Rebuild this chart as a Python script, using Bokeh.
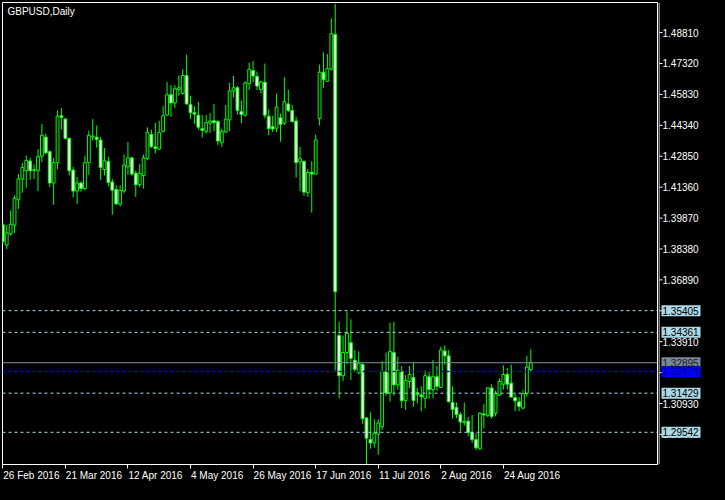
import pandas as pd
from bokeh.plotting import figure
from bokeh.layouts import row
from bokeh.models import (Range1d, FixedTicker, CustomJSTickFormatter, Span, Label,
                          ColumnDataSource, GlobalInlineStyleSheet)
from bokeh.core.properties import value
from bokeh.embed import file_html
from bokeh.resources import INLINE

# ---------------- data ----------------
chart_title = "GBPUSD,Daily"
first_date = "2016-02-26"

opens = [1.3955, 1.3857, 1.3911, 1.3953, 1.4075, 1.4175, 1.4215, 1.4262, 1.4220, 1.4215,
         1.4285, 1.4377, 1.4307, 1.4156, 1.4254, 1.4480, 1.4464, 1.4371, 1.4218, 1.4117,
         1.4156, 1.4129, 1.4254, 1.4378, 1.4377, 1.4363, 1.4221, 1.4260, 1.4161, 1.4125,
         1.4055, 1.4117, 1.4234, 1.4277, 1.4203, 1.4148, 1.4192, 1.4273, 1.4390, 1.4330,
         1.4319, 1.4405, 1.4483, 1.4581, 1.4542, 1.4607, 1.4588, 1.4674, 1.4534, 1.4495,
         1.4483, 1.4418, 1.4405, 1.4444, 1.4456, 1.4452, 1.4350, 1.4402, 1.4460, 1.4600,
         1.4615, 1.4501, 1.4483, 1.4635, 1.4698, 1.4670, 1.4607, 1.4642, 1.4478, 1.4428,
         1.4420, 1.4470, 1.4444, 1.4537, 1.4506, 1.4455, 1.4258, 1.4260, 1.4109, 1.4207,
         1.4199, 1.4467, 1.4690, 1.4646, 1.4705, 1.4872, 1.3421, 1.3227, 1.3339, 1.3386,
         1.3302, 1.3241, 1.3281, 1.3023, 1.2919, 1.2903, 1.2945, 1.2981, 1.3246, 1.3144,
         1.3339, 1.3183, 1.3248, 1.3108, 1.3199, 1.3218, 1.3136, 1.3134, 1.3118, 1.3222,
         1.3160, 1.3222, 1.3171, 1.3346, 1.3323, 1.3098, 1.3074, 1.3040, 1.3001, 1.3008,
         1.2954, 1.2919, 1.2875, 1.3043, 1.3036, 1.3168, 1.3046, 1.3134, 1.3186, 1.3233,
         1.3191, 1.3121, 1.3101, 1.3071, 1.3141, 1.3256]
highs = [1.3971, 1.3953, 1.4023, 1.4097, 1.4199, 1.4252, 1.4288, 1.4277, 1.4246, 1.4319,
         1.4441, 1.4394, 1.4312, 1.4277, 1.4506, 1.4517, 1.4470, 1.4374, 1.4234, 1.4184,
         1.4164, 1.4288, 1.4408, 1.4464, 1.4433, 1.4377, 1.4324, 1.4283, 1.4175, 1.4145,
         1.4145, 1.4293, 1.4354, 1.4283, 1.4215, 1.4246, 1.4293, 1.4424, 1.4413, 1.4447,
         1.4456, 1.4526, 1.4643, 1.4628, 1.4628, 1.4674, 1.4704, 1.4774, 1.4576, 1.4526,
         1.4548, 1.4483, 1.4483, 1.4494, 1.4537, 1.4460, 1.4418, 1.4532, 1.4638, 1.4672,
         1.4623, 1.4553, 1.4646, 1.4736, 1.4744, 1.4693, 1.4649, 1.4732, 1.4511, 1.4480,
         1.4587, 1.4490, 1.4666, 1.4607, 1.4532, 1.4475, 1.4330, 1.4265, 1.4223, 1.4260,
         1.4390, 1.4727, 1.4786, 1.4778, 1.4950, 1.5020, 1.3487, 1.3421, 1.3537, 1.3499,
         1.3350, 1.3344, 1.3288, 1.3028, 1.3051, 1.3017, 1.3017, 1.3297, 1.3339, 1.3482,
         1.3487, 1.3319, 1.3274, 1.3230, 1.3274, 1.3292, 1.3168, 1.3176, 1.3253, 1.3249,
         1.3303, 1.3274, 1.3367, 1.3373, 1.3350, 1.3176, 1.3098, 1.3051, 1.3098, 1.3028,
         1.3038, 1.2950, 1.3051, 1.3090, 1.3172, 1.3186, 1.3155, 1.3214, 1.3277, 1.3264,
         1.3280, 1.3140, 1.3124, 1.3157, 1.3323, 1.3354]
lows = [1.3859, 1.3837, 1.3902, 1.3915, 1.4031, 1.4109, 1.4133, 1.4171, 1.4175, 1.4117,
        1.4257, 1.4293, 1.4136, 1.4051, 1.4223, 1.4413, 1.4366, 1.4192, 1.4086, 1.4055,
        1.4114, 1.4121, 1.4195, 1.4361, 1.4327, 1.4171, 1.4192, 1.4140, 1.4003, 1.4051,
        1.4042, 1.4106, 1.4195, 1.4190, 1.4089, 1.4136, 1.4129, 1.4268, 1.4324, 1.4299,
        1.4316, 1.4400, 1.4480, 1.4475, 1.4518, 1.4576, 1.4581, 1.4534, 1.4464, 1.4441,
        1.4413, 1.4374, 1.4393, 1.4397, 1.4405, 1.4339, 1.4330, 1.4397, 1.4405, 1.4568,
        1.4486, 1.4444, 1.4475, 1.4604, 1.4642, 1.4604, 1.4588, 1.4467, 1.4386, 1.4402,
        1.4402, 1.4355, 1.4436, 1.4498, 1.4447, 1.4182, 1.4117, 1.4094, 1.4089, 1.4013,
        1.4198, 1.4433, 1.4615, 1.4643, 1.4698, 1.3252, 1.3118, 1.3202, 1.3284, 1.3207,
        1.3246, 1.3234, 1.2996, 1.2799, 1.2875, 1.2880, 1.2846, 1.2966, 1.3129, 1.3102,
        1.3132, 1.3160, 1.3071, 1.3062, 1.3168, 1.3078, 1.3093, 1.3056, 1.3069, 1.3116,
        1.3118, 1.3155, 1.3168, 1.3280, 1.3098, 1.3020, 1.3023, 1.2958, 1.2986, 1.2934,
        1.2903, 1.2868, 1.2870, 1.2973, 1.3028, 1.3020, 1.3032, 1.3129, 1.3160, 1.3160,
        1.3121, 1.3056, 1.3056, 1.3064, 1.3126, 1.3246]
closes = [1.3874, 1.3915, 1.3957, 1.4083, 1.4176, 1.4231, 1.4265, 1.4215, 1.4217, 1.4283,
          1.4386, 1.4301, 1.4156, 1.4254, 1.4478, 1.4472, 1.4371, 1.4215, 1.4117, 1.4156,
          1.4129, 1.4254, 1.4386, 1.4382, 1.4366, 1.4231, 1.4263, 1.4159, 1.4121, 1.4055,
          1.4120, 1.4242, 1.4277, 1.4199, 1.4148, 1.4203, 1.4277, 1.4400, 1.4332, 1.4322,
          1.4400, 1.4480, 1.4581, 1.4542, 1.4610, 1.4615, 1.4674, 1.4537, 1.4495, 1.4488,
          1.4425, 1.4410, 1.4447, 1.4455, 1.4447, 1.4358, 1.4405, 1.4464, 1.4600, 1.4615,
          1.4506, 1.4486, 1.4638, 1.4704, 1.4672, 1.4623, 1.4643, 1.4483, 1.4418, 1.4416,
          1.4522, 1.4439, 1.4548, 1.4506, 1.4452, 1.4254, 1.4273, 1.4112, 1.4207, 1.4199,
          1.4363, 1.4690, 1.4654, 1.4708, 1.4876, 1.3632, 1.3227, 1.3339, 1.3432, 1.3311,
          1.3258, 1.3288, 1.3020, 1.2926, 1.2903, 1.2950, 1.2999, 1.3246, 1.3144, 1.3344,
          1.3183, 1.3253, 1.3106, 1.3204, 1.3233, 1.3108, 1.3144, 1.3126, 1.3227, 1.3160,
          1.3222, 1.3176, 1.3351, 1.3323, 1.3102, 1.3064, 1.3040, 1.3004, 1.3008, 1.2954,
          1.2919, 1.2880, 1.3046, 1.3038, 1.3168, 1.3031, 1.3140, 1.3199, 1.3233, 1.3186,
          1.3124, 1.3106, 1.3079, 1.3140, 1.3269, 1.32895]

price_ticks = [1.29440, 1.30930, 1.32420, 1.33910, 1.35400, 1.36890, 1.38380,
               1.39870, 1.41360, 1.42850, 1.44340, 1.45830, 1.47320, 1.48810]
date_tick_step = 16
level_lines = [1.35405, 1.34361, 1.31429, 1.29542]
pivot_line = 1.32474
bid_line = 1.32895

# ---------------- layout ----------------
W, H = 709, 484
SW = 51                    # width of the price-scale strip
MW = W - SW                # width of the chart figure
BL, BT, BR, BB = 2, 2, 1, 20
FW = MW - BL - BR
FONT = "Liberation Sans"
FS = "10px"
LIME = "#00FF00"
X0, X1 = -0.075, 167.4
Y0, Y1 = 1.2799, 1.5026

n = len(opens)
dates = pd.bdate_range(first_date, periods=n)
src = ColumnDataSource(dict(
    x=list(range(n)),
    h=highs, l=lows,
    top=[max(a, b) for a, b in zip(opens, closes)],
    bot=[min(a, b) for a, b in zip(opens, closes)],
    fill=["#000000" if c >= o else "#FFFFFF" for o, c in zip(opens, closes)],
))

p = figure(width=MW, height=H, output_backend="svg", toolbar_location=None,
           x_range=Range1d(X0, X1), y_range=Range1d(Y0, Y1),
           y_axis_location=None,
           background_fill_color="black", border_fill_color="black",
           outline_line_color="white", outline_line_width=1,
           min_border_left=BL, min_border_top=BT, min_border_right=BR, min_border_bottom=BB)
p.stylesheets = [GlobalInlineStyleSheet(css="html, body { background-color: #000000; }")]
p.xgrid.visible = False
p.ygrid.visible = False

# candles
p.segment(x0="x", y0="h", x1="x", y1="l", source=src, line_color=LIME, line_width=1)
p.vbar(x="x", width=0.72, top="top", bottom="bot", source=src,
       fill_color="fill", line_color=LIME, line_width=1)

# horizontal lines
for lv in level_lines:
    p.add_layout(Span(location=lv, dimension="width", line_color="#ADD8E6",
                      line_dash="3 3", line_width=1))
p.add_layout(Span(location=bid_line, dimension="width", line_color="#8090A0", line_width=1))
p.add_layout(Span(location=pivot_line, dimension="width", line_color="#0000FF",
                  line_dash="3 3", line_width=1.6))

# title
p.add_layout(Label(x=5, y=(H - BT - BB) - 3, x_units="screen", y_units="screen",
                   text=chart_title, text_align="left", text_baseline="top",
                   text_color="white", text_font=FONT, text_font_size=FS))

# bottom date axis: tick marks at the dates (minor ticks), labels left-aligned to them
EM = {"0": .556, "1": .556, "2": .556, "3": .556, "4": .556, "5": .556, "6": .556,
      "7": .556, "8": .556, "9": .556, " ": .278, "F": .611, "M": .833, "A": .667,
      "J": .5, "S": .667, "O": .778, "N": .722, "D": .722, "r": .333, "y": .5,
      "l": .222, "t": .278, "c": .5, "v": .5}
px_per_bar = FW / (X1 - X0)
date_idx = list(range(0, n, date_tick_step))
date_labels = [f"{dates[i].day} {dates[i].strftime('%b %Y')}" for i in date_idx]
centers = []
for i, lab in zip(date_idx, date_labels):
    wpx = sum(EM.get(ch, .556) for ch in lab) * 10
    centers.append(i + (wpx / 2 + 0.5) / px_per_bar)

xa = p.xaxis[0]
xa.ticker = FixedTicker(ticks=centers, minor_ticks=date_idx)
xa.formatter = CustomJSTickFormatter(args=dict(labels=date_labels),
                                     code="return labels[index];")
xa.axis_line_color = "white"
xa.major_tick_line_color = None
xa.major_tick_out = 4
xa.major_tick_in = 0
xa.minor_tick_line_color = "white"
xa.minor_tick_out = 4
xa.minor_tick_in = 0
xa.major_label_standoff = 1
xa.major_label_text_color = "white"
xa.major_label_text_font = FONT
xa.major_label_text_font_size = FS

# ---------------- price scale strip (shares the price range) ----------------
s = figure(width=SW, height=H, output_backend="svg", toolbar_location=None,
           x_range=Range1d(0, SW), y_range=p.y_range,
           x_axis_location=None, y_axis_location=None,
           background_fill_color="black", border_fill_color="black",
           outline_line_color=None,
           min_border_left=0, min_border_right=0, min_border_top=BT, min_border_bottom=BB)
s.xgrid.visible = False
s.ygrid.visible = False

s.add_layout(Span(location=0.5, dimension="height", line_color="white", line_width=1))

tick_src = ColumnDataSource(dict(y=price_ticks, t=[f"{v:.5f}" for v in price_ticks]))
s.segment(x0=1, x1=4, y0="y", y1="y", source=tick_src, line_color="white", line_width=1)
s.text(x=4, y="y", text="t", source=tick_src, text_color="white",
       text_font=value(FONT), text_font_size=value(FS),
       text_align="left", text_baseline="middle")

tag_vals = level_lines + [bid_line, pivot_line]
tag_src = ColumnDataSource(dict(
    y=tag_vals,
    t=[f"{v:.5f}" for v in tag_vals],
    bg=["#ADD8E6"] * len(level_lines) + ["#778899", "#0000FF"],
    fg=["#000000"] * len(level_lines) + ["#1A1A1A", "#00007A"],
))
s.rect(x=22.5, y="y", width=39, height=11, height_units="screen", source=tag_src,
       fill_color="bg", line_color=None)
s.text(x=4, y="y", text="t", source=tag_src, text_color="fg",
       text_font=value(FONT), text_font_size=value(FS),
       text_align="left", text_baseline="middle")

layout = row(p, s)
open("out.html", "w").write(file_html(layout, INLINE))
